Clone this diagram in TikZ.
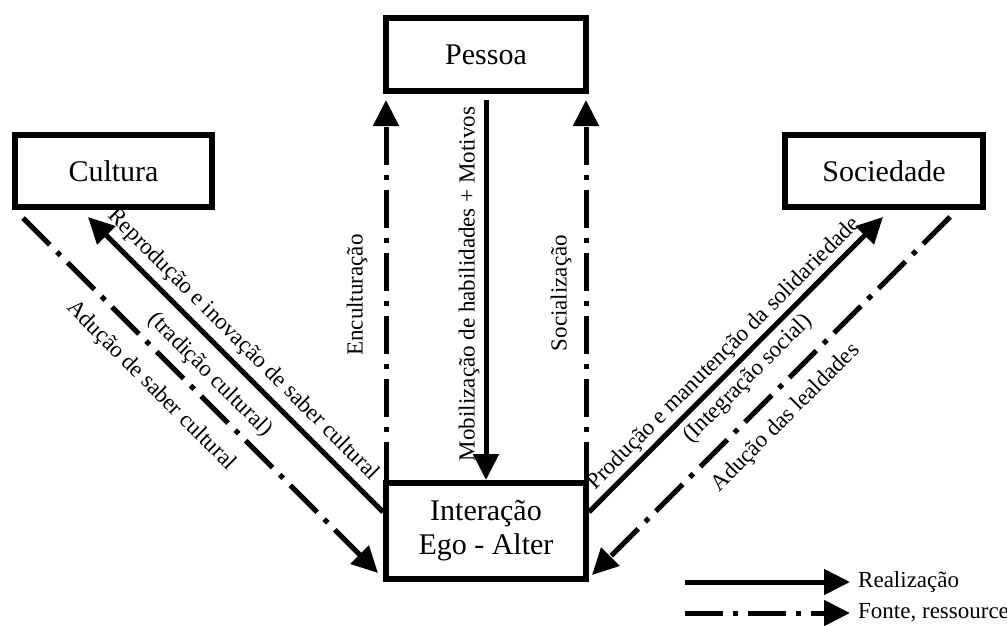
\documentclass[tikz,border=0pt]{standalone}
\usepackage{fontspec}
\setmainfont{Liberation Serif}
\usetikzlibrary{arrows.meta,calc}
\begin{document}
\begin{tikzpicture}[x=1pt,y=1pt,
  box/.style={draw, line width=6pt, fill=white, inner sep=0pt, font=\fontsize{30}{34}\selectfont, align=center},
  lbl/.style={font=\fontsize{23}{26}\selectfont, inner sep=0pt},
  tipstyle/.style={-{Triangle[length=26pt,width=25pt]}},
  real/.style={tipstyle, line width=5pt},
  src/.style={tipstyle, line width=5pt, dash pattern=on 38pt off 10pt on 5pt off 10pt},
]
\useasboundingbox (0,0) rectangle (1007,-625);

% boxes
\node[box, minimum width=200pt, minimum height=73pt] (Pess) at (486,-54.5) {Pessoa};
\node[box, minimum width=197pt, minimum height=72pt] (Cult) at (113.5,-171) {Cultura};
\node[box, minimum width=198pt, minimum height=72pt] (Soc) at (884,-171) {Sociedade};
\node[box, minimum width=200pt, minimum height=96pt] (Inter) at (486,-531) {Interação\\Ego - Alter};

% vertical connectors
\draw[src] ([xshift=3pt]Inter.north west) -- ([xshift=3pt,yshift=-6pt]Pess.south west);
\draw[real] ([yshift=-6pt]Pess.south) -- (Inter.north);
\draw[src] ([xshift=-3pt]Inter.north east) -- ([xshift=-3pt,yshift=-6pt]Pess.south east);

% diagonal connectors
\draw[real] ([yshift=-32pt]Inter.north west) -- ([xshift=76pt,yshift=-7pt]Cult.south west);
\draw[src] ([xshift=11pt,yshift=-8pt]Cult.south west) -- ([xshift=-5pt,yshift=9pt]Inter.south west);
\draw[real] ([yshift=-32pt]Inter.north east) -- ([xshift=101pt,yshift=-7pt]Soc.south west);
\draw[src] ([xshift=-36pt,yshift=-7pt]Soc.south east) -- ([xshift=3pt,yshift=7pt]Inter.south east);

% labels
\node[lbl, rotate=90] (lEnc) at (357,-295) {Enculturação};
\node[lbl, rotate=90] (lMob) at (469,-284) {Mobilização de habilidades + Motivos};
\node[lbl, rotate=90] (lSoc) at (561,-293) {Socialização};
\node[lbl, rotate=-45] (lRep) at (243,-345) {Reprodução e inovação de saber cultural};
\node[lbl, rotate=-45] (lTra) at (210,-375) {(tradição cultural)};
\node[lbl, rotate=-45] (lAdC) at (151,-386) {Adução de saber cultural};
\node[lbl, rotate=45] (lPro) at (724,-354) {Produção e manutenção da solidariedade};
\node[lbl, rotate=45] (lInt) at (748,-379) {(Integração social)};
\node[lbl, rotate=45] (lAdL) at (786,-418) {Adução das lealdades};

% legend
\coordinate (r1) at (685,-582);
\coordinate (r2) at (850,-582);
\coordinate (f1) at (685,-613);
\coordinate (f2) at (850,-613);
\draw[real] (r1) -- (r2);
\draw[src] (f1) -- (f2);
\node[lbl, anchor=west] (lReal) at (858,-582) {Realização};
\node[lbl, anchor=west] (lFont) at (858,-613) {Fonte, ressource};
\end{tikzpicture}
\end{document}
